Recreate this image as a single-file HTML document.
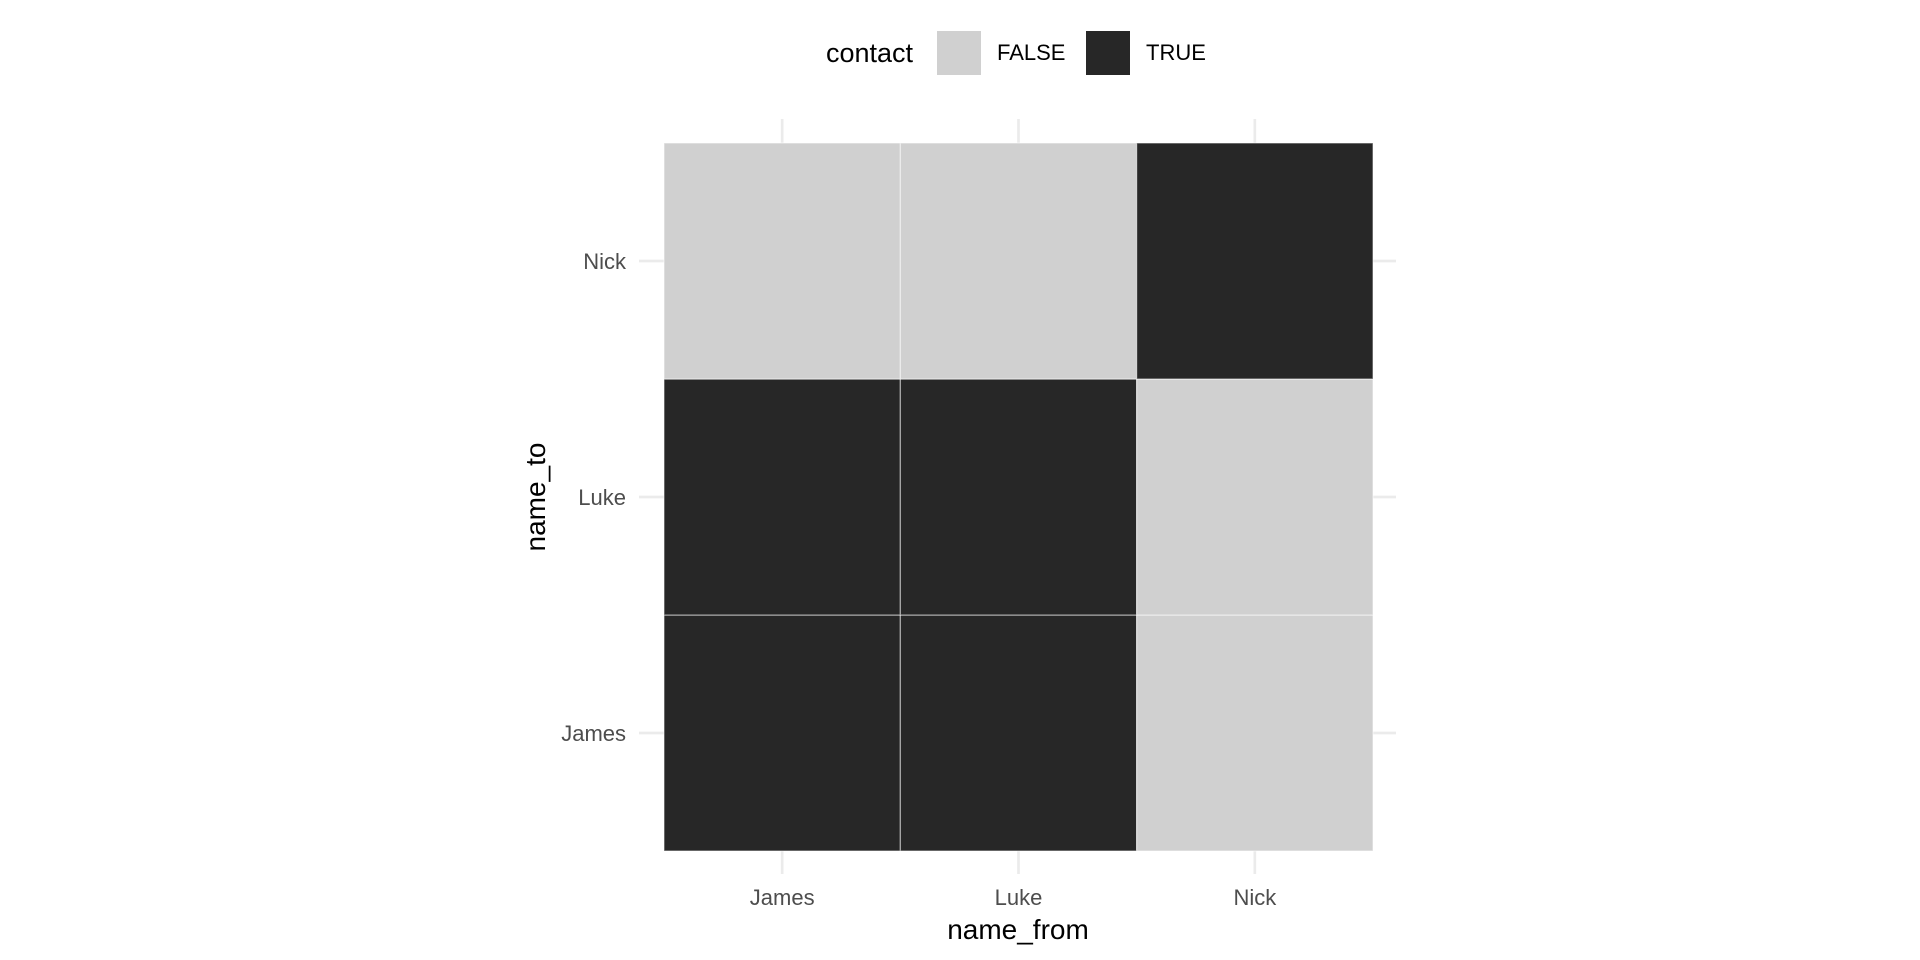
<!DOCTYPE html>
<html><head><meta charset="utf-8"><style>
html,body{margin:0;padding:0;background:#fff;}
svg{display:block;font-family:"Liberation Sans",Arial,sans-serif;}
</style></head><body>
<svg id="chart" width="1920" height="960" viewBox="0 0 1920 960">
<rect x="0" y="0" width="1920" height="960" fill="#fff"/>
<g id="grid"></g>
<g id="tiles"></g>
<g id="labels"></g>
<text x="1018" y="939" text-anchor="middle" font-size="28" fill="#000">name_from</text>
<text transform="translate(545,497) rotate(-90)" text-anchor="middle" font-size="28" fill="#000">name_to</text>
<g>
<text x="826" y="62" font-size="27" fill="#000">contact</text>
<rect x="937" y="31" width="44" height="44" fill="#d0d0d0"/>
<text x="997" y="60" font-size="22" fill="#000">FALSE</text>
<rect x="1086" y="31" width="44" height="44" fill="#272727"/>
<text x="1146" y="60" font-size="22" fill="#000">TRUE</text>
</g>
</svg>
<script>
const xCategories = ["James", "Luke", "Nick"];
const yCategories = ["James", "Luke", "Nick"];
// contact[row y][col x]
const contactJames = [true, true, false];
const contactLuke = [true, true, false];
const contactNick = [false, false, true];
const contactRows = [contactJames, contactLuke, contactNick];

const NS = "http://www.w3.org/2000/svg";
const plotLeft = 664, plotRight = 1373, plotTop = 143, plotBottom = 851;
const cw = (plotRight - plotLeft) / xCategories.length;
const ch = (plotBottom - plotTop) / yCategories.length;
const xScale = i => plotLeft + cw * (i + 0.5);
const yScale = j => plotBottom - ch * (j + 0.5);
function mk(tag, attrs, parent) {
  const e = document.createElementNS(NS, tag);
  for (const k in attrs) e.setAttribute(k, attrs[k]);
  parent.appendChild(e);
  return e;
}
const gridG = document.getElementById('grid');
const tilesG = document.getElementById('tiles');
const labelsG = document.getElementById('labels');
xCategories.forEach((c, i) => {
  const l = mk('line', {x1: xScale(i), x2: xScale(i), y1: 119, y2: 874, stroke: '#ebebeb', 'stroke-width': 2.7}, gridG);
  
  
  const t = mk('text', {x: xScale(i), y: 905, 'text-anchor': 'middle', 'font-size': 22, fill: '#4d4d4d'}, labelsG);
  t.textContent = c;
  
  
});
yCategories.forEach((c, j) => {
  const l = mk('line', {x1: 639, x2: 1396, y1: yScale(j), y2: yScale(j), stroke: '#ebebeb', 'stroke-width': 2.7}, gridG);
  
  
  const t = mk('text', {x: 626, y: yScale(j) + 8, 'text-anchor': 'end', 'font-size': 22, fill: '#4d4d4d'}, labelsG);
  t.textContent = c;
  
  
});
contactRows.forEach((row, j) => {
  row.forEach((v, i) => {
    const r = mk('rect', {x: xScale(i) - cw / 2, y: yScale(j) - ch / 2, width: cw, height: ch,
      fill: v ? '#272727' : '#d0d0d0', stroke: '#ffffff', 'stroke-opacity': 0.5, 'stroke-width': 1.2}, tilesG);
    
    
  });
});
</script>
</body></html>
